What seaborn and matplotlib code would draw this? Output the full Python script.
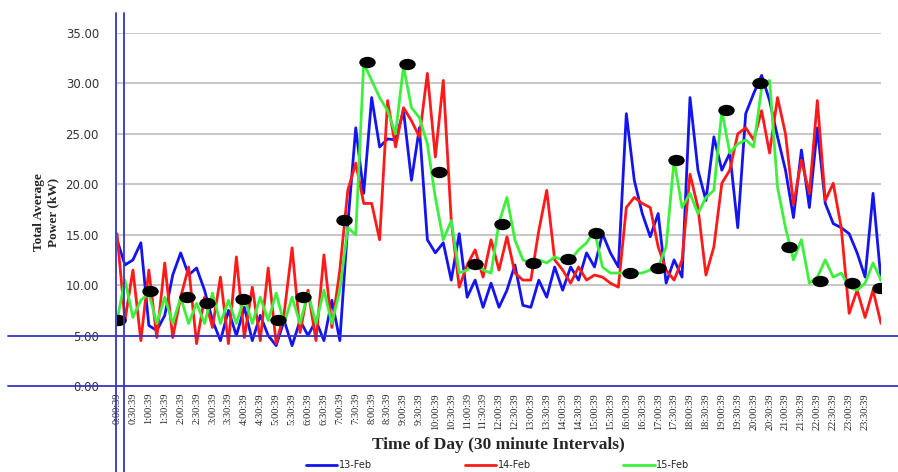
import numpy as np
import pandas as pd
import matplotlib
matplotlib.use('Agg')
import matplotlib.pyplot as plt
import seaborn as sns
from matplotlib.path import Path
from matplotlib.transforms import Affine2D

# --- Data (15 minute steps from 0:00 to 24:00) ---
hours = np.arange(0, 24.01, 0.25)
tick_hours = np.arange(0, 24, 0.5)
tick_labels = [f"{int(h)}:{'30' if h % 1 else '00'}:39" for h in tick_hours]

feb13 = [14.5, 12.0, 12.5, 14.2,  6.0, 5.5, 7.0, 11.0,  13.2, 11.0, 11.7, 9.5,
         6.5, 4.5, 7.5, 5.0,  7.8, 4.5, 7.0, 5.0,  4.0, 6.5, 4.0, 6.5,
         5.0, 6.5, 4.5, 8.5,  4.5, 16.0, 25.6, 19.1,  28.6, 23.7, 24.5, 24.4,
         27.3, 20.4, 25.6, 14.5,  13.2, 14.2, 10.5, 15.1,  8.8, 10.5, 7.8, 10.2,
         7.8, 9.5, 12.0, 8.0,  7.8, 10.5, 8.8, 11.8,  9.5, 11.8, 10.5, 13.2,
         11.8, 15.1, 13.2, 11.8,  27.0, 20.4, 17.1, 14.8,  17.1, 10.2, 12.5, 10.8,
         28.6, 21.4, 18.4, 24.7,  21.4, 23.1, 15.7, 27.0,  29.0, 30.8, 28.3, 24.7,
         21.4, 16.7, 23.4, 17.7,  25.6, 18.1, 16.1, 15.7,  15.1, 13.2, 10.8, 19.1,
         10.5]

feb14 = [15.1, 6.5, 11.5, 4.5,  11.5, 4.8, 12.2, 4.8,  8.8, 11.8, 4.2, 8.8,
         5.8, 10.8, 4.2, 12.8,  4.8, 9.8, 4.5, 11.7,  4.2, 7.2, 13.7, 5.3,
         9.5, 4.5, 13.0, 5.8,  11.5, 19.4, 22.1, 18.1,  18.1, 14.5, 28.3, 23.7,
         27.6, 26.3, 24.7, 31.0,  22.7, 30.3, 16.4, 9.8,  12.0, 13.5, 10.8, 14.5,
         11.5, 14.8, 11.2, 10.5,  10.5, 15.4, 19.4, 12.5,  11.5, 10.2, 11.8, 10.5,
         11.0, 10.8, 10.2, 9.8,  17.7, 18.7, 18.1, 17.7,  13.8, 11.5, 10.5, 12.5,
         21.0, 17.7, 11.0, 13.8,  20.1, 21.4, 25.0, 25.6,  24.4, 27.3, 23.1, 28.6,
         25.0, 18.0, 22.4, 19.1,  28.3, 18.4, 20.1, 15.7,  7.2, 9.5, 6.8, 9.5,
         6.2]

feb15 = [6.5, 10.5, 6.8, 8.5,  9.2, 6.2, 8.8, 6.2,  8.8, 6.2, 8.2, 6.2,
         9.2, 6.2, 8.5, 6.2,  8.8, 6.2, 8.8, 6.5,  9.2, 6.2, 8.8, 6.2,
         9.2, 6.2, 9.5, 6.2,  9.5, 15.7, 15.0, 32.0,  30.3, 28.6, 27.3, 25.0,
         31.7, 27.6, 26.6, 24.0,  18.7, 14.5, 16.4, 11.2,  11.5, 12.2, 11.5, 11.2,
         16.2, 18.7, 14.5, 12.5,  12.2, 12.5, 12.2, 12.8,  12.5, 12.5, 13.5, 14.2,
         15.4, 11.8, 11.2, 11.2,  11.2, 11.2, 11.2, 11.5,  11.8, 13.8, 22.4, 17.7,
         19.1, 17.1, 18.7, 19.4,  27.3, 23.1, 24.0, 24.4,  23.7, 29.6, 30.3, 19.7,
         15.7, 12.5, 14.5, 10.2,  10.8, 12.5, 10.8, 11.2,  9.8, 9.5, 10.2, 12.2,
         10.5]

days = ['13-Feb', '14-Feb', '15-Feb']
day_colors = ['#1414f0', '#ff1a1a', '#3cf03c']

# black markers drawn over the chart
dot_hours = [0.03, 1.04, 2.2, 2.83, 3.96, 5.06, 5.85, 7.14, 7.86, 9.12, 10.1, 11.26, 12.1,
             13.08, 14.18, 15.06, 16.13, 17.0, 17.55, 19.12, 20.2, 21.1, 22.07, 23.08, 23.96]
dot_values = [6.5, 9.4, 8.8, 8.2, 8.6, 6.5, 8.8, 16.5, 32.1, 31.9, 21.2, 12.1, 16.1,
              12.2, 12.6, 15.2, 11.2, 11.7, 22.4, 27.4, 30.0, 13.8, 10.4, 10.2, 9.7]

df = pd.DataFrame({
    'hour': np.tile(hours, 3),
    'power': feb13 + feb14 + feb15,
    'day': np.repeat(days, len(hours)),
})

# --- Plot ---
sns.set_style('white')
plt.rcParams['font.family'] = ['DejaVu Sans']

fig = plt.figure(figsize=(8.98, 4.72), dpi=100)
ax = fig.add_axes([117 / 898, 86 / 472, 764 / 898, 353 / 472])

sns.lineplot(data=df, x='hour', y='power', hue='day', hue_order=days,
             palette=day_colors, linewidth=2.0, errorbar=None, legend=False, ax=ax)

ellipse = Path.unit_circle().transformed(Affine2D().scale(1.45, 1.0))
sns.scatterplot(x=dot_hours, y=dot_values, marker=ellipse, s=140, color='black',
                edgecolor='black', linewidth=0, zorder=6, legend=False, ax=ax)

ax.set_xlim(0, 24)
ax.set_ylim(0, 35)
ax.set_yticks(np.arange(0, 36, 5))
ax.set_yticklabels([f"{v:.2f}" for v in np.arange(0, 36, 5)], fontsize=8.5, color='#333333')
ax.set_xticks(tick_hours)
ax.set_xticklabels(tick_labels, rotation=90, fontsize=7.5, family='Liberation Serif')
ax.tick_params(length=0)
ax.tick_params(axis='y', pad=13)
ax.tick_params(axis='x', pad=5)
ax.yaxis.grid(True, color='#c8c8c8', linewidth=1.5)
ax.xaxis.grid(False)
for s in ax.spines.values():
    s.set_visible(False)
ax.set_xlabel('')
ax.set_ylabel('')

# blue guide lines drawn on top of the chart
guide = '#3636c0'
for yv in [5, 0]:
    ax.axhline(yv, xmin=(8 - 117) / 764, xmax=(898 - 117) / 764, clip_on=False,
               color=guide, linewidth=1.3, zorder=7)
for xv in [-0.03, 0.22]:
    ax.axvline(xv, ymin=-86 / 353, ymax=(386 - 13) / 353, clip_on=False,
               color=guide, linewidth=1.3, zorder=7)

fig.text(498 / 898, (472 - 445) / 472, 'Time of Day (30 minute Intervals)',
         ha='center', va='center', fontsize=12.5, fontweight='bold', family='Liberation Serif')
fig.text(46 / 898, (472 - 212) / 472, 'Total Average\nPower (kW)', rotation=90,
         ha='center', va='center', fontsize=9.5, fontweight='bold', family='Liberation Serif',
         linespacing=1.2)

handles = ax.get_lines()[:3]
fig.legend(handles, days, loc='center', bbox_to_anchor=(498 / 898, 7 / 472), ncol=3,
           frameon=False, fontsize=7, handlelength=3.2, handletextpad=0.2, columnspacing=9.5)

fig.savefig('out.png', dpi=100)
